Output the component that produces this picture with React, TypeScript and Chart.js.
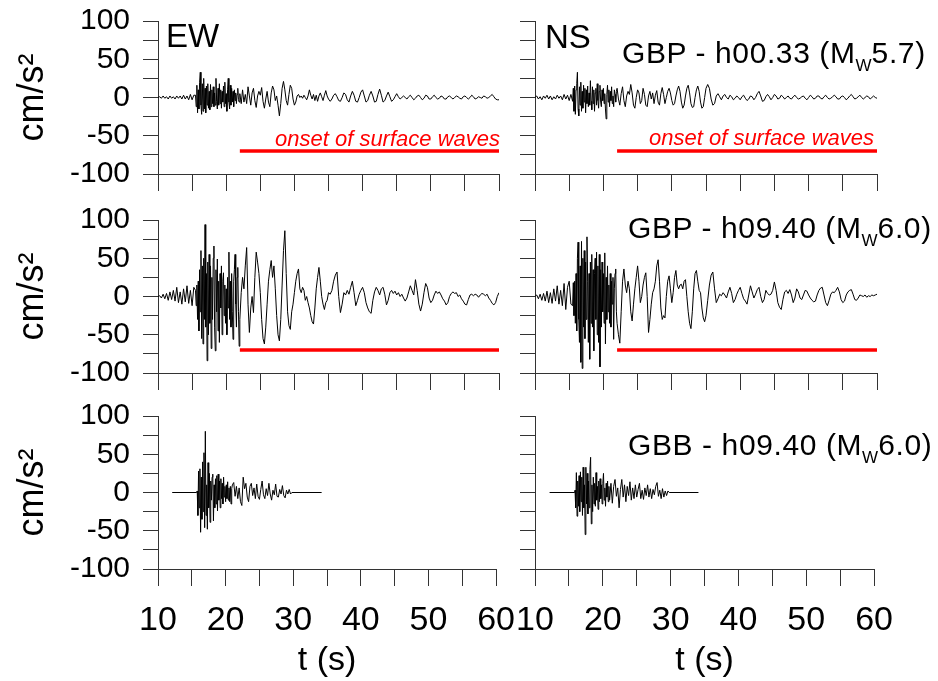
import React, { useEffect, useRef } from "react";
import { Chart, registerables } from "chart.js";

Chart.register(...registerables);

// ---------------- DATA ----------------
// Each trace is stored as segments: values sampled every `step` seconds from `start`.

// GBP h00.33 – EW
const EW1_PRE = [0, 1, -1, 2, -1, 1, -2, 2, -1, 1, -2, 2, -1, 2, -2, 3, -2, 2, -3, 4, -3, 3];
const EW1_BURST = [
  3, -12, 16, -20, 10, -15, 20, 33, -10, -22,
  18, -18, 25, -15, 12, -20, 15, -10, 18, -14,
  8, -16, 17, -12, 10, -8, 14, -12, 6, -10,
  25, -5, -15, 12, -10, 18, -8, 10, -14, 8,
  -6, 15, -12, 20, -8, 5, -18, 10, 25, -6,
  -15, 16, -10, 12, -6, 8, -12, 10, -4, 6,
  -8, 4, 12, -3, -6,
];
const EW1_CODA = [
  5, -8, 10, -6, 4, -8, 14, 2, -10, 6,
  12, -4, -13, 2, 8, 3, 13, -5, -14, -2,
  8, -6, -12, 6, 15, 10, -4, 2, -10, -24,
  -8, 12, 21, 10, -4, -10, 4, 16, 12, -2,
  -10, -6, 2, 4, 0, 2, -1, 3, 0, -3,
  2, 10, 3, -2, 4, -4, 3, -5, 2, 6,
  1, -4, 3, 9, 2,
];
const EW1_TAIL = [
  -2, -5, -2, 3, 5, 1, -4, -5, 0, 6,
  4, -3, -6, 2, 8, 3, -5, -6, 0, 7,
  10, 2, -6, -4, 3, 8, 2, -6, -5, 4,
  11, 3, -6, -4, 2, 7, 1, -5, -3, 1,
  5, 1, -2, 0, 2, 0, -2, 1, 3, 0,
  -3, -1, 2, 3, 0, -3, -1, 3, 2, -2,
  -2, 1, 3, 0, -2, -1, 2, 1, -2, -2,
  1, 2, 0, -2, 0, 2, 1, -1, -2, 1,
  2, 0, -2, 0, 3, 1, -2, -1, 1, 0,
  -1, 2, 1, -1, 0, 2, 4, 1, -2, -3,
  -3,
];

// GBP h00.33 – NS
const NS1_PRE = [0, 2, -2, 1, -3, 2, -1, 3, -2, 2, -3, 1, -2, 3, -1, 2, -3, 4, -2, 3, -4, 4];
const NS1_BURST = [
  -5, 12, -18, 15, -22, 10, 18, 33, -15, -24,
  14, -10, 20, -18, 8, -14, 16, -6, 12, -20,
  10, -8, 15, -12, 6, -10, 22, -5, -16, 14,
  -8, 10, -18, 6, 12, -10, 18, -4, -14, 8,
  16, -6, -12, 10, -4, 12, -8, 5, -15, -28,
  4, 16, -6, 10, -12, 8, -4, 14, -8, 2,
  -12, 10, 4, -6, 8,
];
const NS1_CODA = [
  12, -2, -10, 5, 14, -4, -12, 2, 8, 4,
  17, 6, -10, -14, 0, 10, 6, -8, -4, 12,
  4, -10, -12, 2, 8, -2, 6, -8, 3, 9,
  -6, -10, 5, 13, 4, -8, 0, 8, 12, 6,
  -4, -10, -8, 2, 10, 15, 8, -6, -14, -10,
  2, 12, 16, 6, -8, -13, -12, 0, 10, 15,
  8, -6, -14, -12, 0,
];
const NS1_TAIL = [
  12, 17, 12, -2, -10, -8, 2, 5, 1, -3,
  2, 4, 0, -2, 3, 1, -3, -1, 2, 0,
  -3, 1, 3, -1, -4, -2, 2, 1, -3, 0,
  5, 8, 2, -5, -4, 1, 4, 1, -3, 0,
  4, 2, -2, -1, 3, 1, -2, 0, 2, -1,
  -2, 1, 3, 0, -2, -1, 1, 2, -1, -3,
  0, 3, 1, -2, -1, 2, 2, -1, -2, 1,
  3, 0, -2, -1, 1, 3, 1, -2, -2, 1,
  2, 0, -3, -1, 2, 4, 1, -2, -1, 1,
  3, 0, -2, 0, 2, 1, -2, 0, 2, 0,
  -1,
];

// GBP h09.40 – EW
const EW2_PRE = [0, 1, -2, 3, -3, 4, -5, 6, -4, 8, -6, 12, -8, 6, -10, 10, -7, 14, -9, 8, -12, 12];
const EW2_BURST = [
  8, -12, 15, -30, 20, -45, 35, -20, 60, -55,
  40, -62, 50, -30, 94, -40, 30, -84, 45, -50,
  55, -35, 40, -68, 25, -30, 50, 66, -40, -71,
  35, -20, 49, -45, 20, -60, 30, -15, 40, -50,
  20, 31, -25, 15, -35, 10, -50, 25, -15, 58,
  -30, 20, -40, 30, -20, -56, 20, 35, 55, -10,
  -40, 25, 38, -20, -65,
];
const EW2_CODA = [
  -30, 5, 25, 10, 40, 64, -10, -47, -15, 0,
  -21, 25, 58, 45, 30, 5, -30, -55, -62, -40,
  -10, 20, 35, 47, 25, 40, 10, -25, -50, -58,
  -30, 15, 60, 86, 30, -20, -38, -43, -20, -10,
  5, 20, 30, 36, 10, 5, 12, 8, -5, 0,
  -8, -15, -25, -33, -36, -15, 10, 25, 38, 20,
  0, -10, -17, -8, -5,
];
const EW2_TAIL = [
  5, 3, 8, 20, 28, 32, 0, -21, -10, 5,
  2, 8, 3, 12, 20, 5, -12, -5, 3, 8,
  12, 5, -8, -15, -20, -22, -5, 6, 12, 8,
  2, 10, 12, 3, -11, -5, 5, 8, 4, 7,
  2, 5, 0, 3, -2, -6, -2, 6, 14, 8,
  2, 22, 8, -10, -19, -10, 5, 17, 12, -2,
  -8, -5, 2, 7, 4, 6, 2, -3, -6, -11,
  -8, 0, 4, 6, 4, 5, 0, 2, -3, -6,
  -10, -11, -4, 2, 3, 1, 3, 2, -1, 2,
  4, 3, 1, 3, -2, -5, -9, -11, -8, 0,
  5,
];

// GBP h09.40 – NS
const NS2_PRE = [0, 2, -3, 3, -5, 4, -6, 7, -8, 5, -9, 10, -6, 14, -10, 8, -12, 17, -17, 12, 20, -10];
const NS2_BURST = [
  -12, 18, -25, 20, -35, 30, -45, 50, 71, -30,
  -60, 40, -86, 72, -94, 50, -40, 60, -55, 45,
  -30, 78, 20, -60, 30, -82, 45, -35, 55, -40,
  35, -71, 30, 50, -30, 58, -50, 40, -60, 55,
  -92, 35, -40, 45, -20, 30, -35, 57, -62, 25,
  -30, 40, -20, 15, -35, 30, -40, 20, -10, 25,
  -56, 10, 30, 36, -20,
];
const NS2_CODA = [
  -35, -50, -61, -20, 20, 36, 15, 5, 20, 10,
  -20, -32, -10, 10, 25, 40, 20, -8, 0, 15,
  25, 31, 0, -47, -30, -10, 5, 10, 20, 40,
  48, 20, -15, -30, -25, -28, 0, 20, 27, 10,
  -8, 5, 25, 34, 15, 10, 15, 16, 10, 20,
  22, 0, -20, -35, -42, -20, 10, 30, 34, 20,
  8, 5, -15, -28, -33,
];
const NS2_TAIL = [
  -25, -5, 15, 28, 32, 10, -8, -3, 3, 1,
  5, 2, -2, 6, 12, 4, -8, -4, 3, 8,
  12, 4, -3, -6, -10, 2, 14, 6, -2, 3,
  9, 12, 0, -8, -4, 8, 4, 2, 3, 8,
  19, 8, -8, -14, -17, -4, 6, 8, 4, 9,
  2, -8, -2, 10, 6, -2, -4, 2, 8, 7,
  2, -2, -5, -7, -6, 2, 8, 11, 12, 2,
  -8, -12, -5, 3, 6, 5, 8, 12, 6, -4,
  -8, -6, 2, 6, 8, 9, 3, -4, -5, -2,
  2, 1, 0, 2, -1, 1, 0, 2, 1, 2,
  3,
];

// GBB h09.40 – EW
const EW3_QUIET = [0, 0];
const EW3_BURST = [
  2, -30, 28, -20, 31, -52, 20, -35, 40, -25,
  52, -46, 80, -30, 10, -48, 39, -20, 25, -39,
  15, -10, 20, 24, -37, 10, -20, 18, -15, 22,
  -24, 24, -10, 15, -20, 18, -8, 12, -15, 20,
  -6, 8, -12, 10, -8, 14, -10, 6, -12, 8,
  -15, 5,
];
const EW3_CODA = [
  10, 13, -5, 8, -8, 6, -12, -17, 20, 5,
  12, -6, -12, 8, 12, -4, 6, -8, 11, -5,
  -9, 4, 15, -3, -8, 5, -4, 12, -2, -10,
  3, -3, 11, -5, -6, 4, -2, 9, -4, -7,
  3, -2, 4, -2, 0,
];
const EW3_END = [0];

// GBB h09.40 – NS
const NS3_QUIET = [0, 0];
const NS3_BURST = [
  3, -20, 26, -31, 15, -18, 22, -25, 27, -12,
  20, -30, 33, -20, 10, -55, 33, -15, 25, -28,
  15, -20, 30, 46, -41, 10, -25, 20, -15, 12,
  -18, 26, -10, 8, -22, 15, -12, 18, -8, 10,
  -15, 12, 25, -10, 6, -18, 12, -6, 15, -12,
  8,
];
const NS3_CODA = [
  -10, 12, -14, 8, 17, -5, 6, -20, 4, 17,
  -6, 10, -12, 8, -4, 14, -10, 6, -8, 10,
  -6, 4, 12, -8, 3, -9, 6, -4, 10, -6,
  5, -8, 4, -3, 8, 13, -5, 3, -8, 5,
  -6, 2, -4, 2, 0,
];
const NS3_END = [0];

// Onset of surface waves marker (time range, level)
const ONSET_T = [22, 60];
const ONSET_LEVEL = -70;

// Axis ticks
const X_RANGE = [10, 60];
const X_STEP = 5;
const Y_RANGE = [-100, 100];
const Y_STEP = 25;

type Segment = [number, number, number[]];

const TRACE_EW1: Segment[] = [[10, 0.25, EW1_PRE], [15.5, 0.1, EW1_BURST], [22, 0.2, EW1_CODA], [35, 0.25, EW1_TAIL]];
const TRACE_NS1: Segment[] = [[10, 0.25, NS1_PRE], [15.5, 0.1, NS1_BURST], [22, 0.2, NS1_CODA], [35, 0.25, NS1_TAIL]];
const TRACE_EW2: Segment[] = [[10, 0.25, EW2_PRE], [15.5, 0.1, EW2_BURST], [22, 0.2, EW2_CODA], [35, 0.25, EW2_TAIL]];
const TRACE_NS2: Segment[] = [[10, 0.25, NS2_PRE], [15.5, 0.1, NS2_BURST], [22, 0.2, NS2_CODA], [35, 0.25, NS2_TAIL]];
const TRACE_EW3: Segment[] = [[12.1, 3.6, EW3_QUIET], [15.8, 0.1, EW3_BURST], [21, 0.2, EW3_CODA], [34.2, 1, EW3_END]];
const TRACE_NS3: Segment[] = [[12.15, 3.7, NS3_QUIET], [15.9, 0.1, NS3_BURST], [21, 0.2, NS3_CODA], [34.1, 1, NS3_END]];

function buildTrace(segs: Segment[]) {
  const pts: { x: number; y: number }[] = [];
  segs.forEach(([start, step, vals], i) => {
    const next = i + 1 < segs.length ? segs[i + 1][0] : Infinity;
    vals.forEach((v, k) => {
      const t = +(start + k * step).toFixed(3);
      if (t < next - 1e-6) pts.push({ x: t, y: v });
    });
  });
  return pts;
}

// ---------------- LAYOUT ----------------
const FONT = "'Liberation Sans', Arial, Helvetica, sans-serif";
const AXIS_COLOR = "#333";

const COLS = [
  { plotLeft: 158, plotWidth: 341, yW: 158, showY: true },
  { plotLeft: 535, plotWidth: 342, yW: 40, showY: false },
];
const ROWS = [
  { plotTop: 21, xH: 36, showX: false },
  { plotTop: 220, xH: 36, showX: false },
  { plotTop: 416, xH: 112, showX: true },
];
const PLOT_H = 153;
const PAD_TOP = 36;
const PAD_RIGHT = 30;

interface PanelProps {
  trace: Segment[];
  col: number;
  row: number;
  onset: boolean;
}

function Panel({ trace, col, row, onset }: PanelProps) {
  const ref = useRef<HTMLCanvasElement | null>(null);
  const c = COLS[col];
  const r = ROWS[row];
  const width = c.yW + c.plotWidth + PAD_RIGHT;
  const height = PAD_TOP + PLOT_H + r.xH;
  const left = c.plotLeft - c.yW;
  const top = r.plotTop - PAD_TOP;

  useEffect(() => {
    if (!ref.current) return;
    const datasets: any[] = [
      {
        data: buildTrace(trace),
        borderColor: "#000",
        borderWidth: 1,
        pointRadius: 0,
        tension: 0,
        borderJoinStyle: "round",
      },
    ];
    if (onset) {
      datasets.push({
        data: [
          { x: ONSET_T[0], y: ONSET_LEVEL },
          { x: ONSET_T[1], y: ONSET_LEVEL },
        ],
        borderColor: "#ff0000",
        borderWidth: 3.5,
        pointRadius: 0,
      });
    }
    const chart = new Chart(ref.current, {
      type: "line",
      data: { datasets },
      options: {
        responsive: false,
        animation: false,
        devicePixelRatio: 1,
        layout: { padding: { top: PAD_TOP, right: PAD_RIGHT, left: 0, bottom: 0 } },
        plugins: { legend: { display: false }, tooltip: { enabled: false } },
        scales: {
          x: {
            type: "linear",
            min: X_RANGE[0],
            max: X_RANGE[1],
            afterFit: (s: any) => {
              s.height = r.xH;
            },
            ticks: {
              display: r.showX,
              stepSize: X_STEP,
              autoSkip: false,
              maxRotation: 0,
              padding: 14,
              color: "#000",
              font: { family: FONT, size: 34 },
              callback: (v: any) => (Number(v) % 10 === 0 ? String(v) : ""),
            },
            grid: { drawOnChartArea: false, drawTicks: true, tickLength: 17, color: AXIS_COLOR, lineWidth: 1 },
            border: { display: true, color: AXIS_COLOR, width: 1 },
            title: {
              display: r.showX,
              text: "t (s)",
              color: "#000",
              font: { family: FONT, size: 34 },
              padding: { top: 0, bottom: 0 },
            },
          },
          y: {
            type: "linear",
            min: Y_RANGE[0],
            max: Y_RANGE[1],
            afterFit: (s: any) => {
              s.width = c.yW;
            },
            ticks: {
              display: c.showY,
              stepSize: Y_STEP,
              autoSkip: false,
              padding: 13,
              color: "#000",
              font: { family: FONT, size: 30 },
              callback: (v: any) => (Number(v) % 50 === 0 ? String(v) : ""),
            },
            grid: { drawOnChartArea: false, drawTicks: true, tickLength: 15, color: AXIS_COLOR, lineWidth: 1 },
            border: { display: true, color: AXIS_COLOR, width: 1 },
            title: {
              display: c.showY,
              text: "cm/s²",
              color: "#000",
              font: { family: FONT, size: 36 },
              padding: { top: 11, bottom: 0 },
            },
          },
        },
      } as any,
    });
    return () => chart.destroy();
  }, []);

  return (
    <canvas
      ref={ref}
      width={width}
      height={height}
      style={{ position: "absolute", left, top, width, height }}
    />
  );
}

const txt: React.CSSProperties = {
  position: "absolute",
  fontFamily: FONT,
  color: "#000",
  lineHeight: 1,
  whiteSpace: "nowrap",
};

function Station({ name, left, top, mag }: { name: string; left: number; top: number; mag: string }) {
  return (
    <div style={{ ...txt, left, top, fontSize: 30, letterSpacing: 0.6 }}>
      {name} (M
      <span style={{ fontSize: 17, position: "relative", top: 8, letterSpacing: 0 }}>W</span>
      {mag})
    </div>
  );
}

export default function App() {
  return (
    <div
      style={{
        position: "absolute",
        left: 0,
        top: 0,
        width: 938,
        height: 681,
        background: "#fff",
        overflow: "hidden",
      }}
    >
      <Panel trace={TRACE_EW1} col={0} row={0} onset />
      <Panel trace={TRACE_NS1} col={1} row={0} onset />
      <Panel trace={TRACE_EW2} col={0} row={1} onset />
      <Panel trace={TRACE_NS2} col={1} row={1} onset />
      <Panel trace={TRACE_EW3} col={0} row={2} onset={false} />
      <Panel trace={TRACE_NS3} col={1} row={2} onset={false} />

      <div style={{ ...txt, left: 166, top: 19, fontSize: 33 }}>EW</div>
      <div style={{ ...txt, left: 545, top: 20, fontSize: 33 }}>NS</div>
      <Station name="GBP - h00.33" left={622} top={38} mag="5.7" />
      <Station name="GBP - h09.40" left={628} top={213} mag="6.0" />
      <Station name="GBB - h09.40" left={628} top={430} mag="6.0" />

      <div style={{ ...txt, right: 938 - 500, top: 128, fontSize: 22, fontStyle: "italic", color: "#ff0000" }}>
        onset of surface waves
      </div>
      <div style={{ ...txt, right: 938 - 874, top: 127, fontSize: 22, fontStyle: "italic", color: "#ff0000" }}>
        onset of surface waves
      </div>
    </div>
  );
}
